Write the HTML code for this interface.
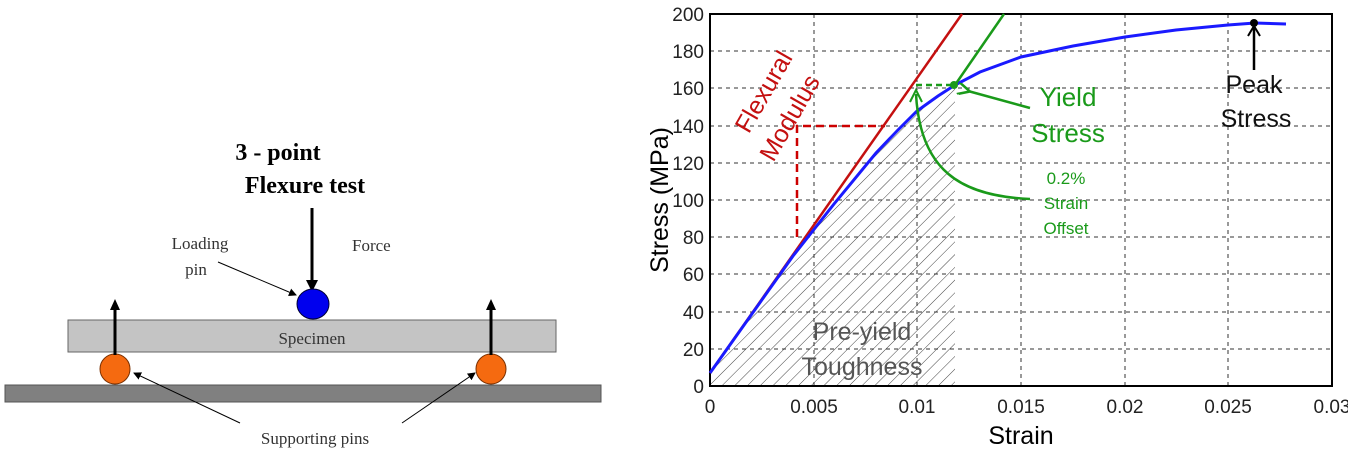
<!DOCTYPE html>
<html><head><style>body{margin:0;background:#fff}svg{display:block}</style></head><body>
<svg width="1348" height="449" xmlns="http://www.w3.org/2000/svg">
<defs>
<marker id="ak" markerWidth="8" markerHeight="8" refX="7" refY="4" orient="auto" markerUnits="userSpaceOnUse"><path d="M0,0 L8,4 L0,8 z" fill="#000"/></marker>
<marker id="ag" markerWidth="14" markerHeight="12" refX="2" refY="6" orient="auto" markerUnits="userSpaceOnUse"><path d="M12,0 L0,6 L12,12" fill="none" stroke="#1a9a1a" stroke-width="2.5"/></marker>
<pattern id="hatch" width="9" height="9" patternUnits="userSpaceOnUse" patternTransform="rotate(45)"><line x1="0" y1="0" x2="0" y2="9" stroke="#444" stroke-width="1"/></pattern>
</defs>
<g font-family="Liberation Serif, serif">
<text x="278" y="160" font-size="24" font-weight="bold" text-anchor="middle">3 - point</text>
<text x="305" y="193" font-size="24" font-weight="bold" text-anchor="middle">Flexure test</text>
<line x1="312" y1="208" x2="312" y2="284" stroke="#000" stroke-width="3"/>
<path d="M306,280 L312,292 L318,280 z" fill="#000"/>
<text x="352" y="251" font-size="17" fill="#333">Force</text>
<text x="200" y="249" font-size="17" text-anchor="middle" fill="#333">Loading</text>
<text x="196" y="275" font-size="17" text-anchor="middle" fill="#333">pin</text>
<line x1="218" y1="262" x2="296" y2="295" stroke="#000" stroke-width="1" marker-end="url(#ak)"/>
<ellipse cx="313" cy="304" rx="16" ry="15" fill="#0000ee" stroke="#003" stroke-width="1"/>
<rect x="68" y="320" width="488" height="32" fill="#c4c4c4" stroke="#666"/>
<text x="312" y="344" font-size="17" text-anchor="middle" fill="#333">Specimen</text>
<rect x="5" y="385" width="596" height="17" fill="#808080" stroke="#555"/>
<ellipse cx="115" cy="369" rx="15" ry="15" fill="#f56a10" stroke="#7a3000"/>
<ellipse cx="491" cy="369" rx="15" ry="15" fill="#f56a10" stroke="#7a3000"/>
<line x1="115" y1="355" x2="115" y2="306" stroke="#000" stroke-width="3"/>
<path d="M110,310 L115,299 L120,310 z" fill="#000"/>
<line x1="491" y1="355" x2="491" y2="306" stroke="#000" stroke-width="3"/>
<path d="M486,310 L491,299 L496,310 z" fill="#000"/>
<text x="315" y="444" font-size="17" text-anchor="middle" fill="#333">Supporting pins</text>
<line x1="240" y1="423" x2="134" y2="373" stroke="#000" stroke-width="1" marker-end="url(#ak)"/>
<line x1="402" y1="423" x2="475" y2="373" stroke="#000" stroke-width="1" marker-end="url(#ak)"/>
</g>
<g font-family="Liberation Sans, sans-serif">
<clipPath id="cp"><path d="M710,386 L710,373 L793,256 L834,204 L876,153 L897,131 L917,111 L938,96 L955,85 L955,386 z"/></clipPath>
<rect x="710" y="14" width="246" height="372" fill="url(#hatch)" clip-path="url(#cp)"/>
<g stroke="#333" stroke-width="1" stroke-dasharray="4,4">
<line x1="710" y1="51" x2="1332" y2="51"/><line x1="710" y1="88" x2="1332" y2="88"/><line x1="710" y1="126" x2="1332" y2="126"/><line x1="710" y1="163" x2="1332" y2="163"/><line x1="710" y1="200" x2="1332" y2="200"/><line x1="710" y1="237" x2="1332" y2="237"/><line x1="710" y1="274" x2="1332" y2="274"/><line x1="710" y1="312" x2="1332" y2="312"/><line x1="710" y1="349" x2="1332" y2="349"/>
<line x1="814" y1="14" x2="814" y2="386"/><line x1="917" y1="14" x2="917" y2="386"/><line x1="1021" y1="14" x2="1021" y2="386"/><line x1="1125" y1="14" x2="1125" y2="386"/><line x1="1228" y1="14" x2="1228" y2="386"/>
</g>
<rect x="710" y="14" width="622" height="372" fill="none" stroke="#000" stroke-width="2"/>
<g font-size="19" text-anchor="end" fill="#222">
<text x="704" y="393">0</text><text x="704" y="356">20</text><text x="704" y="319">40</text><text x="704" y="281">60</text><text x="704" y="244">80</text><text x="704" y="207">100</text><text x="704" y="170">120</text><text x="704" y="133">140</text><text x="704" y="95">160</text><text x="704" y="58">180</text><text x="704" y="21">200</text>
</g>
<g font-size="19" text-anchor="middle" fill="#222">
<text x="710" y="413">0</text><text x="814" y="413">0.005</text><text x="917" y="413">0.01</text><text x="1021" y="413">0.015</text><text x="1125" y="413">0.02</text><text x="1228" y="413">0.025</text><text x="1332" y="413">0.03</text>
</g>
<text x="1021" y="444" font-size="25" text-anchor="middle">Strain</text>
<text transform="translate(668,200) rotate(-90)" font-size="25" text-anchor="middle">Stress (MPa)</text>
<path d="M797,237 L797,126 L885,126" fill="none" stroke="#c00" stroke-width="2.5" stroke-dasharray="8,5"/>
<line x1="710" y1="373" x2="962" y2="14" stroke="#c41010" stroke-width="2.5"/>
<path d="M710,373 L793,256 L834,204 L876,153 L897,131 L917,111 L938,96 L955,85 L980,72 L1021,57 L1073,46 L1125,37 L1176,30 L1228,25 L1255,23 L1286,24" fill="none" stroke="#1a1aff" stroke-width="3"/>
<line x1="955" y1="85" x2="1004" y2="14" stroke="#1a9a1a" stroke-width="2.5"/>
<line x1="916" y1="85" x2="953" y2="85" stroke="#1a9a1a" stroke-width="2.5" stroke-dasharray="6,4"/>
<circle cx="954" cy="85" r="4" fill="#1a9a1a"/>
<path d="M1030,199 C960,196 920,170 916,94" fill="none" stroke="#1a9a1a" stroke-width="2.5"/>
<path d="M910,102 L916,90 L922,102" fill="none" stroke="#1a9a1a" stroke-width="2"/>
<line x1="1030" y1="108" x2="968" y2="91" stroke="#1a9a1a" stroke-width="2.5" marker-end="url(#ag)"/>
<line x1="1254" y1="70" x2="1254" y2="28" stroke="#000" stroke-width="2.5"/>
<path d="M1248,36 L1254,26 L1260,36" fill="none" stroke="#000" stroke-width="2"/>
<circle cx="1254" cy="23" r="4" fill="#000"/>
<text transform="translate(771,96) rotate(-60)" font-size="25" fill="#c41010" text-anchor="middle">Flexural</text>
<text transform="translate(797,122) rotate(-60)" font-size="25" fill="#c41010" text-anchor="middle">Modulus</text>
<text x="1068" y="106" font-size="26" fill="#1a9a1a" text-anchor="middle">Yield</text>
<text x="1068" y="142" font-size="26" fill="#1a9a1a" text-anchor="middle">Stress</text>
<text x="1066" y="184" font-size="17" fill="#1a9a1a" text-anchor="middle">0.2%</text>
<text x="1066" y="209" font-size="17" fill="#1a9a1a" text-anchor="middle">Strain</text>
<text x="1066" y="234" font-size="17" fill="#1a9a1a" text-anchor="middle">Offset</text>
<text x="1254" y="93" font-size="25" fill="#111" text-anchor="middle">Peak</text>
<text x="1256" y="127" font-size="25" fill="#111" text-anchor="middle">Stress</text>
<text x="862" y="340" font-size="25" fill="#555" text-anchor="middle">Pre-yield</text>
<text x="862" y="375" font-size="25" fill="#555" text-anchor="middle">Toughness</text>
</g>
</svg>
</body></html>
